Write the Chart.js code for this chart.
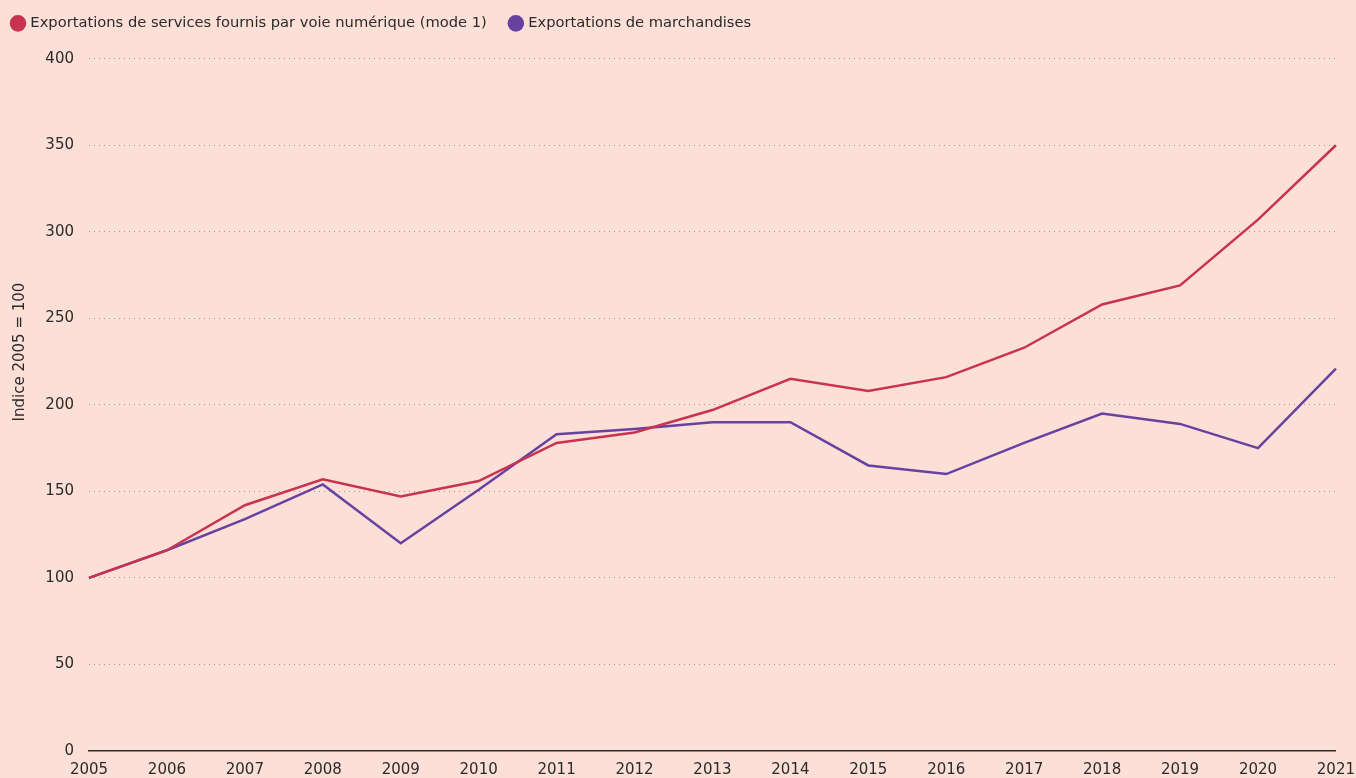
<!DOCTYPE html>
<html>
<head>
<meta charset="utf-8">
<script src="https://cdn.jsdelivr.net/npm/chart.js@4"></script>
<style>
  html, body { margin: 0; padding: 0; background: #fcdfd6; overflow: hidden; }
  #wrap { position: relative; width: 1365px; height: 789px; }
</style>
</head>
<body>
<div id="wrap"><canvas id="lineChart"></canvas></div>
<script>
// data (index 2005 = 100)
const years = ['2005', '2006', '2007', '2008', '2009', '2010', '2011', '2012', '2013',
               '2014', '2015', '2016', '2017', '2018', '2019', '2020', '2021'];
const servicesNumeriques = [100, 116, 142, 157, 147, 156, 178, 184, 197, 215, 208, 216, 233, 258, 269, 307, 350];
const marchandises = [100, 116, 134, 154, 120, 151, 183, 186, 190, 190, 165, 160, 178, 195, 189, 175, 221];
const yTicks = [0, 50, 100, 150, 200, 250, 300, 350, 400];

const seriesNames = ['Exportations de services fournis par voie numérique (mode 1)', 'Exportations de marchandises'];
const seriesColors = ['#c9334f', '#6742a0'];
const yTitle = 'Indice 2005 = 100';

const fontFamily = '"DejaVu Sans", Verdana, sans-serif';
Chart.defaults.font.family = fontFamily;
Chart.defaults.font.size = 15;
Chart.defaults.color = '#2b2b2b';

// add some room under the legend
const legendSpace = {
    id: 'legendSpace',
    beforeInit(chart) {
        const fit = chart.legend.fit;
        chart.legend.fit = function () {
            fit.bind(chart.legend)();
            this.height += 18;
        };
    }
};

// y title drawn by hand so it sits where it does in the reference
const yTitlePlugin = {
    id: 'yTitle',
    afterDraw(chart) {
        const ctx = chart.ctx;
        ctx.save();
        ctx.translate(20, 352);
        ctx.rotate(-Math.PI / 2);
        ctx.textAlign = 'center';
        ctx.textBaseline = 'middle';
        ctx.font = '15px ' + fontFamily;
        ctx.fillStyle = '#2b2b2b';
        ctx.fillText(yTitle, 0, 0);
        ctx.restore();
    }
};

const ctx = document.getElementById('lineChart');
new Chart(ctx.getContext('2d'), {
    type: 'line',
    data: {
        labels: years,
        datasets: [{
            label: seriesNames[0],
            data: servicesNumeriques,
            borderColor: seriesColors[0],
            backgroundColor: seriesColors[0],
            borderWidth: 2.5,
            pointRadius: 0,
            tension: 0
        }, {
            label: seriesNames[1],
            data: marchandises,
            borderColor: seriesColors[1],
            backgroundColor: seriesColors[1],
            borderWidth: 2.5,
            pointRadius: 0,
            tension: 0
        }]
    },
    options: {
        responsive: true,
        maintainAspectRatio: false,
        animation: false,
        layout: { padding: { left: -11, right: 0, top: -8, bottom: 0 } },
        plugins: {
            legend: {
                position: 'top',
                align: 'start',
                labels: {
                    usePointStyle: true,
                    pointStyle: 'circle',
                    boxWidth: 10,
                    boxHeight: 10,
                    padding: 24,
                    color: '#2b2b2b',
                    font: { size: 14.7 }
                }
            },
            tooltip: { enabled: false }
        },
        scales: {
            x: {
                offset: false,
                grid: { display: false, drawTicks: false },
                border: { display: true, color: '#2b2b2b', width: 1.5 },
                ticks: { padding: 10, maxRotation: 0, autoSkip: false, color: '#2b2b2b' }
            },
            y: {
                min: 0,
                max: 400,
                afterFit(scale) { scale.width = 100; },
                afterBuildTicks(scale) { scale.ticks = yTicks.map(v => ({ value: v })); },
                grid: {
                    drawTicks: false,
                    color: ctx => ctx.tick && ctx.tick.value === 0 ? 'rgba(0,0,0,0)' : '#a8958d',
                    lineWidth: 1
                },
                border: { display: false, dash: [1, 4] },
                ticks: { padding: 15, color: '#2b2b2b' }
            }
        }
    },
    plugins: [legendSpace, yTitlePlugin]
});
</script>
</body>
</html>
